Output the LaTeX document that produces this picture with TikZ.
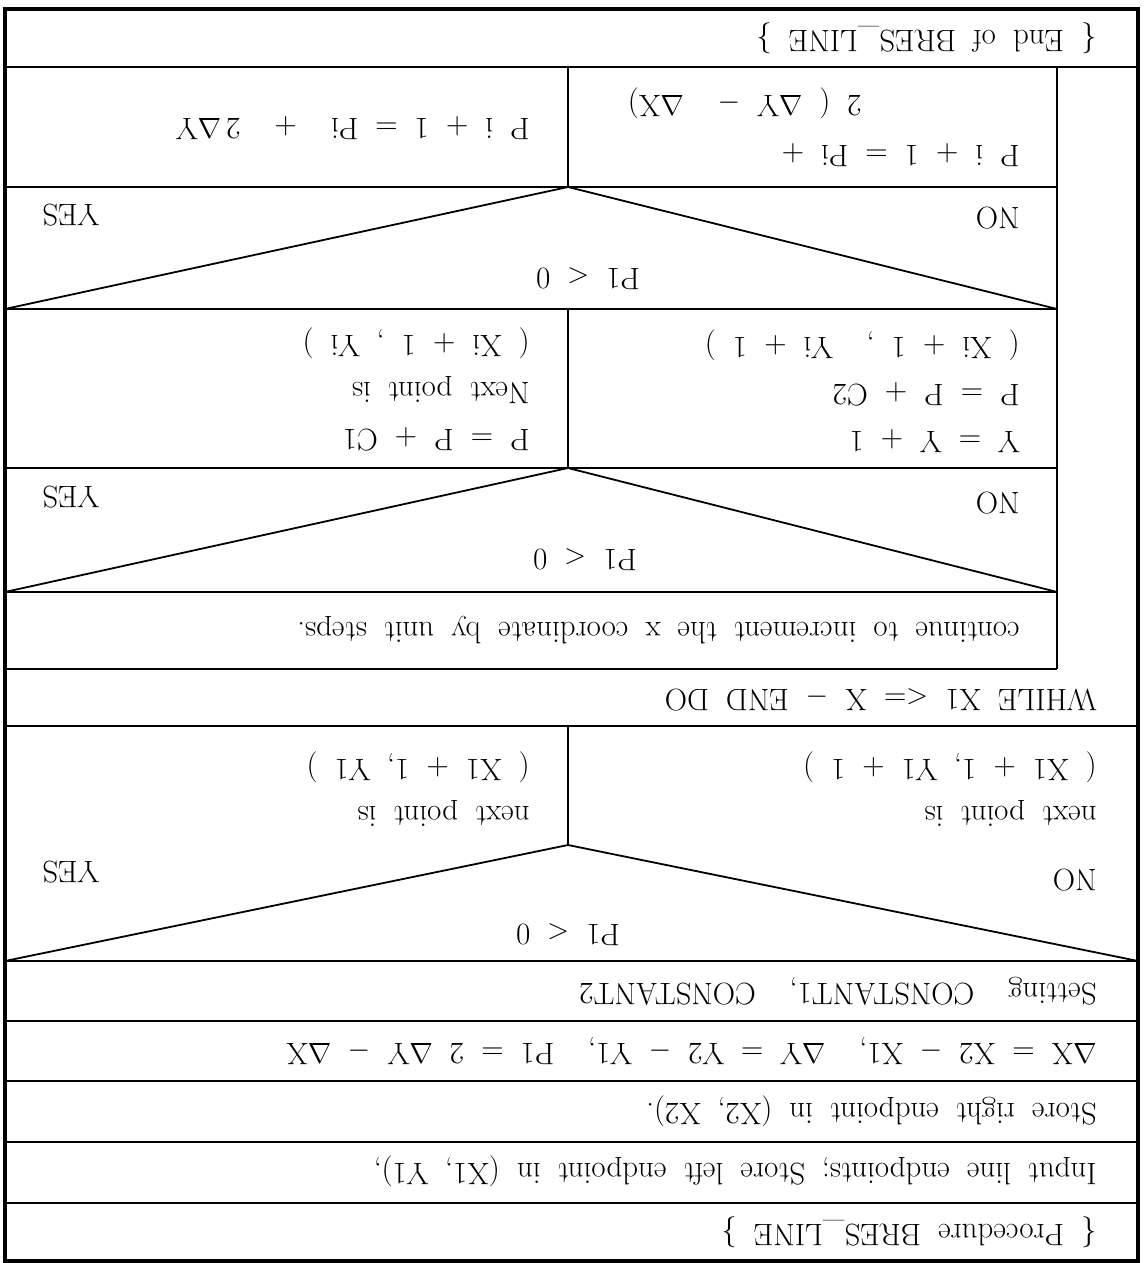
\documentclass[tikz,border=0pt]{standalone}
\usepackage{fontspec}
\usepackage{tikz}
\usetikzlibrary{positioning}

\newcommand\lblfont{\fontsize{15.5}{23.5}\selectfont
  \spaceskip=0.55em plus 0.1em minus 0.05em\relax}

\begin{document}
\begin{tikzpicture}[
  x=0.5pt, y=-0.5pt,
  line/.style={line width=0.9pt},
  frame/.style={line width=1.8pt},
  lbl/.style={
    rotate=180,
    inner sep=0pt,
    align=left,
    font=\lblfont
  },
  lstart/.style={lbl, anchor=west},
  lend/.style={lbl, anchor=east},
  cond/.style={lbl, anchor=center}
]
\useasboundingbox (0,0) rectangle (1144,1263);

% ===================== frame and rows =====================
\draw[frame] (5,9) rectangle (1138,1261);

\draw[line] (5,67) -- (1138,67);
\draw[line] (5,187) -- (1057,187);
\draw[line] (5,309) -- (1057,309);
\draw[line] (5,468) -- (1057,468);
\draw[line] (5,592) -- (1057,592);
\draw[line] (5,669) -- (1057,669);
\draw[line] (1057,67) -- (1057,669);
\draw[line] (5,726) -- (1138,726);
\draw[line] (5,961) -- (1138,961);
\draw[line] (5,1021) -- (1138,1021);
\draw[line] (5,1081) -- (1138,1081);
\draw[line] (5,1142) -- (1138,1142);
\draw[line] (5,1203) -- (1138,1203);

% ===================== decisions =====================
\draw[line] (5,309) -- (568,187) -- (1057,309);
\draw[line] (568,67) -- (568,187);
\draw[line] (5,592) -- (568,468) -- (1057,592);
\draw[line] (568,309) -- (568,468);
\draw[line] (5,961) -- (568,845) -- (1138,961);
\draw[line] (568,726) -- (568,845);

% ===================== (1) Set-up =====================
\node[lstart] (proc)  at (1097,1232) {\{ Procedure BRES\_LINE \}};
\node[lstart] (input) at (1097,1171) {Input line endpoints; Store left endpoint in (X1, Y1),};
\node[lstart] (store) at (1097,1111) {Store right endpoint in (X2, X2).};
\node[lstart] (delta) at (1097,1051)
  {$\Delta$X = X2 $-$ X1, \ $\Delta$Y = Y2 $-$ Y1, \ P1 = 2 $\Delta$Y $-$ $\Delta$X};
\node[lstart] (consts) at (1097,991) {Setting \ CONSTANT1, \ CONSTANT2};

% ===================== (2) First point =====================
\node[cond]   (c1)    at (568,935) {P1 $<$ 0};
\node[lstart] (no1)   at (1097,880) {NO};
\node[lend]   (yes1)  at (42,872) {YES};
\node[lstart] (nxtA)  at (1097,789) {next point is\\( X1 + 1, Y1 + 1 )};
\node[lstart] (nxtB)  at (530,789) {next point is\\( X1 + 1, Y1 )};

% ===================== (3) Loop =====================
\node[lstart] (loop)  at (1097,699) {WHILE X1 $<$= X $-$ END DO};
\node[lstart] (cont)  at (1020,630) {continue to increment the x coordinate by unit steps.};

\node[cond]   (c2)    at (585,560) {P1 $<$ 0};
\node[lstart] (no2)   at (1020,503) {NO};
\node[lend]   (yes2)  at (42,497) {YES};
\node[lstart] (stepA) at (1020,391) {Y = Y + 1\\P = P + C2\\( Xi + 1 , \ Yi + 1 )};
\node[lstart] (stepB) at (530,389) {P = P + C1\\Next point is\\( Xi + 1 , Yi )};

\node[cond]   (c3)    at (588,279) {P1 $<$ 0};
\node[lstart] (no3)   at (1020,218) {NO};
\node[lend]   (yes3)  at (42,215) {YES};
\node[lstart] (updA1) at (1020,155) {P i + 1 = Pi +};
\node[lstart] (updA2) at (862,103) {2 ( $\Delta$Y $-$ \ $\Delta$X)};
\node[lstart] (updB)  at (530,128) {P i + 1 = Pi \ + \ 2\,$\Delta$Y};

% ===================== (4) End =====================
\node[lstart] (stop)  at (1097,38) {\{ End of BRES\_LINE \}};

\end{tikzpicture}
\end{document}
